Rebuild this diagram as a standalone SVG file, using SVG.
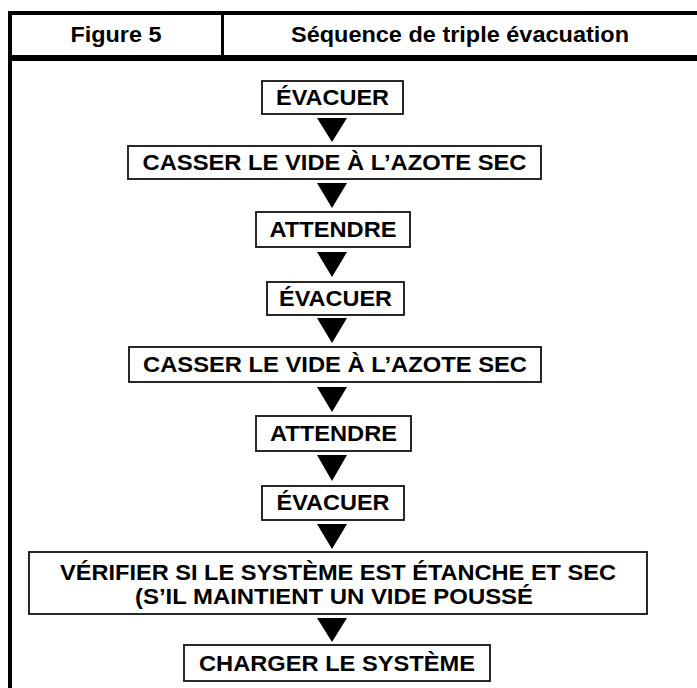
<svg xmlns="http://www.w3.org/2000/svg" width="697" height="688" viewBox="0 0 697 688">
<style>
.frame{fill:#000}
.box{fill:#fff;stroke:#111;stroke-width:1.8}
.t{font-family:"Liberation Sans",Arial,sans-serif;font-weight:bold;font-size:22px;fill:#000;text-anchor:middle}
.h{font-family:"Liberation Sans",Arial,sans-serif;font-weight:bold;font-size:22px;fill:#000;text-anchor:middle}
.arr{fill:#000}
</style>
<rect width="697" height="688" fill="#fff"/>
<g id="header">
<rect class="frame" x="8" y="11" width="689" height="4"/>
<rect class="frame" x="8" y="11" width="4" height="677"/>
<rect class="frame" x="8" y="55" width="689" height="6"/>
<rect class="frame" x="221" y="11" width="3" height="46"/>
<text class="h" x="116" y="42" textLength="91" lengthAdjust="spacingAndGlyphs">Figure 5</text>
<text class="h" x="460" y="42" textLength="338" lengthAdjust="spacingAndGlyphs">Séquence de triple évacuation</text>
</g>
<g id="connectors">
<polygon class="arr" points="317,118 347,118 332,142"/>
<polygon class="arr" points="317,183 347,183 332,208"/>
<polygon class="arr" points="317,252 347,252 332,277"/>
<polygon class="arr" points="317,318 347,318 332,343"/>
<polygon class="arr" points="317,387 347,387 332,412"/>
<polygon class="arr" points="317,455 347,455 332,481"/>
<polygon class="arr" points="317,524 347,524 332,549"/>
<polygon class="arr" points="317,618 347,618 332,642"/>
</g>
<g id="n1"><rect class="box" x="262" y="81" width="141" height="33"/><text class="t" x="332.5" y="105" textLength="113" lengthAdjust="spacingAndGlyphs">ÉVACUER</text></g>
<g id="n2"><rect class="box" x="128" y="146" width="413" height="33"/><text class="t" x="334.5" y="170" textLength="384" lengthAdjust="spacingAndGlyphs">CASSER LE VIDE À L’AZOTE SEC</text></g>
<g id="n3"><rect class="box" x="256" y="212" width="154" height="35"/><text class="t" x="333" y="237" textLength="127" lengthAdjust="spacingAndGlyphs">ATTENDRE</text></g>
<g id="n4"><rect class="box" x="267" y="282" width="137" height="33"/><text class="t" x="335.5" y="306" textLength="113" lengthAdjust="spacingAndGlyphs">ÉVACUER</text></g>
<g id="n5"><rect class="box" x="129" y="347" width="412" height="35"/><text class="t" x="335" y="372" textLength="384" lengthAdjust="spacingAndGlyphs">CASSER LE VIDE À L’AZOTE SEC</text></g>
<g id="n6"><rect class="box" x="256" y="416" width="155" height="35"/><text class="t" x="333.5" y="441" textLength="127" lengthAdjust="spacingAndGlyphs">ATTENDRE</text></g>
<g id="n7"><rect class="box" x="262" y="486" width="142" height="34"/><text class="t" x="333" y="510" textLength="113" lengthAdjust="spacingAndGlyphs">ÉVACUER</text></g>
<g id="n8"><rect class="box" x="29" y="552" width="618" height="62"/><text class="t" x="338" y="580" textLength="556" lengthAdjust="spacingAndGlyphs">VÉRIFIER SI LE SYSTÈME EST ÉTANCHE ET SEC</text><text class="t" x="334" y="604" textLength="398" lengthAdjust="spacingAndGlyphs">(S’IL MAINTIENT UN VIDE POUSSÉ</text></g>
<g id="n9"><rect class="box" x="184" y="645" width="306" height="36"/><text class="t" x="337" y="671" textLength="276" lengthAdjust="spacingAndGlyphs">CHARGER LE SYSTÈME</text></g>
</svg>
